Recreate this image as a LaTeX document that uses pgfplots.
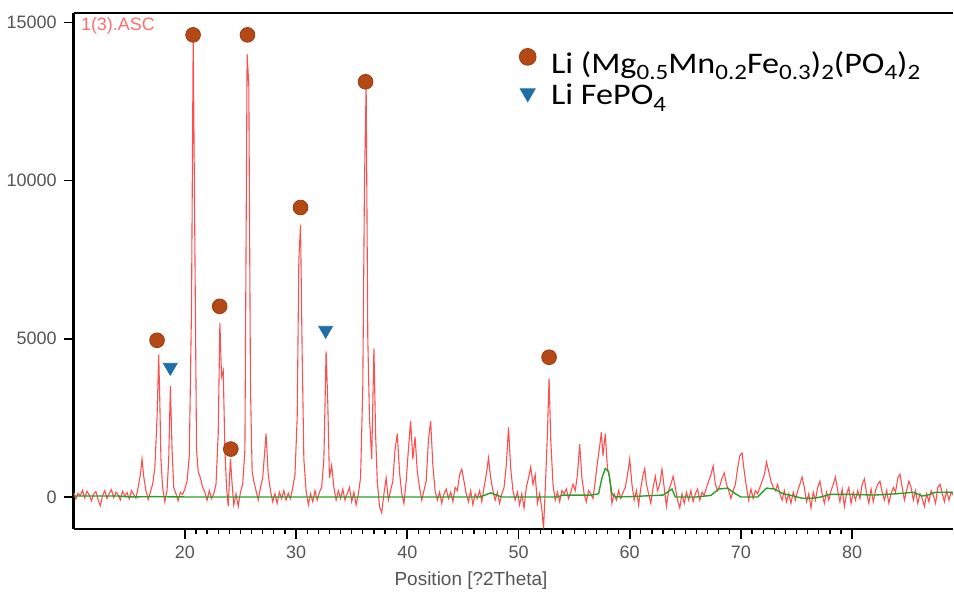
\documentclass[border=0pt]{standalone}
\usepackage{pgfplots}
\pgfplotsset{compat=1.18}
\usepackage{fontspec}
\setmainfont{Liberation Sans}
\newfontfamily\legfont[FakeStretch=1.14]{Carlito}
\newcommand\sub[1]{\raisebox{-3.3pt}{\fontsize{11}{12}\selectfont #1}}

\definecolor{xrdred}{RGB}{252,80,80}
\definecolor{ascred}{RGB}{255,110,110}
\definecolor{bggreen}{RGB}{40,160,40}
\definecolor{phaseA}{RGB}{180,72,22}
\definecolor{phaseB}{RGB}{31,110,168}
\definecolor{ticktext}{RGB}{85,85,85}

\pgfplotsset{
    legcirc/.style={legend image code/.code={%
        \draw[##1, mark size=4.2pt] plot coordinates {(0.3cm,3.5pt)};}},
    legtri/.style={legend image code/.code={%
        \draw[##1, mark size=4.3pt] plot coordinates {(0.3cm,1.5pt)};}},
}

\begin{document}
\begin{tikzpicture}
\begin{axis}[
    scale only axis,
    width=440.5pt, height=258.5pt,
    xmin=10, xmax=89.05,
    ymin=-1010, ymax=15300,
    axis x line=box, axis y line=left,
    axis line style={-, line width=1.2pt, black},
    xtick={20,30,...,80}, minor x tick num=9,
    ytick={0,5000,10000,15000},
    xtick pos=left, ytick pos=left,
    tick align=outside,
    major tick length=5pt, minor tick length=2.5pt,
    tick style={black, line width=0.8pt},
    minor tick style={line width=0.6pt},
    ticklabel style={font=\fontsize{9}{10}\selectfont, text=ticktext},
    /pgf/number format/assume math mode=true,
    /pgf/number format/1000 sep={},
    scaled y ticks=false,
    xlabel={Position [?2Theta]},
    xlabel style={at={(axis description cs:0.452,0)}, anchor=north,
        yshift=-21.5pt, inner sep=0pt,
        font=\fontsize{9.5}{11}\selectfont, text=ticktext},
    legend style={at={(rel axis cs:0.5065,0.934)}, anchor=north west,
        draw=none, fill=none, inner sep=0pt, row sep=0pt, column sep=5.5pt,
        font=\legfont\fontsize{15}{18}\selectfont},
    legend cell align=left,
]
% measured pattern
\addplot[xrdred, line width=0.55pt, forget plot] table {
10.0 150
10.2 -60
10.4 120
10.6 40
10.8 210
11.0 -30
11.2 180
11.4 60
11.6 -120
11.8 90
12.0 170
12.2 -80
12.4 -280
12.6 40
12.8 200
13.0 -50
13.2 110
13.4 230
13.6 -20
13.8 150
14.0 60
14.2 -90
14.4 180
14.6 20
14.8 140
15.0 -60
15.2 200
15.4 80
15.6 -40
15.8 300
16.0 700
16.15 1200
16.3 650
16.5 200
16.7 -80
16.9 150
17.1 400
17.3 900
17.5 2500
17.65 4500
17.75 3000
17.85 1200
18.0 300
18.2 -150
18.4 200
18.55 1200
18.7 3500
18.85 1500
19.0 300
19.2 100
19.4 -120
19.6 150
19.8 80
20.0 250
20.2 500
20.4 1300
20.6 6000
20.75 14500
20.9 8000
21.05 1500
21.2 800
21.4 600
21.6 300
21.8 150
22.0 -100
22.2 200
22.4 -50
22.6 100
22.8 400
23.0 2000
23.15 5500
23.3 3800
23.45 4000
23.6 1500
23.75 300
23.9 -300
24.1 1200
24.25 400
24.4 -250
24.6 100
24.8 -300
25.0 150
25.2 400
25.4 1500
25.6 14000
25.75 13000
25.9 3500
26.05 800
26.2 500
26.4 200
26.6 -100
26.8 300
27.0 600
27.3 2000
27.5 700
27.7 200
27.9 -150
28.1 100
28.3 -200
28.5 150
28.7 -50
28.9 200
29.1 -100
29.3 120
29.5 -60
29.7 300
29.9 700
30.1 2500
30.25 7500
30.4 8600
30.55 4500
30.7 1200
30.9 200
31.1 -250
31.3 100
31.5 -150
31.7 200
31.9 -100
32.1 150
32.3 300
32.5 1200
32.7 4600
32.85 3000
33.0 600
33.2 1000
33.4 300
33.6 -100
33.8 200
34.0 -50
34.2 250
34.4 -100
34.6 100
34.8 300
35.0 -150
35.2 150
35.4 -250
35.6 100
35.8 600
36.0 3500
36.15 9900
36.3 13000
36.45 5000
36.6 2500
36.8 1200
37.0 4700
37.15 2000
37.3 500
37.5 -300
37.7 -500
37.9 100
38.1 600
38.3 -100
38.5 200
38.7 500
38.9 1500
39.1 2000
39.3 800
39.5 100
39.7 -200
39.9 500
40.1 1500
40.3 2400
40.5 1200
40.7 1900
40.9 800
41.1 300
41.3 -100
41.5 200
41.7 500
41.9 1800
42.1 2400
42.3 1000
42.5 200
42.7 -100
42.9 150
43.1 -200
43.3 100
43.5 250
43.7 -50
43.9 150
44.1 -150
44.3 300
44.5 200
44.7 700
44.9 880
45.1 500
45.3 100
45.5 -150
45.7 200
45.9 -250
46.1 100
46.3 -50
46.5 200
46.7 -150
46.9 300
47.1 700
47.3 1230
47.5 600
47.7 200
47.9 -100
48.1 150
48.3 -200
48.5 100
48.7 300
48.9 1000
49.1 2200
49.3 900
49.5 200
49.7 -100
49.9 150
50.1 -250
50.3 100
50.5 -350
50.7 300
50.9 600
51.1 950
51.3 400
51.5 700
51.7 -200
51.9 100
52.1 -400
52.25 -1000
52.4 200
52.6 2000
52.75 3750
52.9 1800
53.1 400
53.3 -100
53.5 150
53.7 -150
53.9 200
54.1 100
54.3 250
54.5 -50
54.7 150
54.9 400
55.1 200
55.3 700
55.5 1670
55.7 600
55.9 100
56.1 -150
56.3 200
56.5 100
56.7 -50
56.9 500
57.1 1100
57.3 1600
57.45 2050
57.6 1300
57.8 2000
58.0 900
58.2 600
58.4 -200
58.6 100
58.8 -100
59.0 200
59.2 -50
59.4 150
59.6 300
59.8 700
60.0 1200
60.2 400
60.4 -100
60.6 200
60.8 -250
61.0 300
61.2 700
61.35 900
61.5 400
61.7 100
61.9 -200
62.1 300
62.3 650
62.5 200
62.7 400
62.9 880
63.1 300
63.3 -300
63.5 200
63.7 400
63.9 650
64.1 300
64.3 -100
64.5 -350
64.7 100
64.9 -200
65.1 150
65.3 -100
65.5 200
65.7 -150
65.9 100
66.1 250
66.3 -100
66.5 150
66.7 50
66.9 300
67.1 500
67.3 700
67.5 980
67.7 400
67.9 200
68.1 350
68.3 600
68.5 760
68.7 400
68.9 200
69.1 -50
69.3 200
69.5 400
69.7 900
69.9 1300
70.1 1390
70.3 800
70.5 300
70.7 -100
70.9 250
71.1 -50
71.3 200
71.5 100
71.7 300
71.9 500
72.1 700
72.3 1100
72.5 800
72.7 500
72.9 300
73.1 200
73.3 400
73.5 100
73.7 -100
73.9 200
74.1 -150
74.3 100
74.5 -200
74.7 150
74.9 -100
75.1 200
75.3 400
75.5 630
75.7 300
75.9 -150
76.1 100
76.3 -350
76.5 150
76.7 -100
76.9 300
77.1 500
77.3 100
77.5 -200
77.7 150
77.9 -100
78.1 200
78.3 400
78.5 630
78.7 200
78.9 -150
79.1 250
79.3 -300
79.5 100
79.7 300
79.9 -200
80.1 150
80.3 -100
80.5 200
80.7 -50
80.9 400
81.1 570
81.3 100
81.5 -200
81.7 250
81.9 -150
82.1 200
82.3 400
82.5 500
82.7 150
82.9 -100
83.1 200
83.3 -200
83.5 100
83.7 300
83.9 150
84.1 600
84.3 720
84.5 300
84.7 -100
84.9 200
85.1 500
85.3 300
85.5 -100
85.7 200
85.9 -200
86.1 100
86.3 -50
86.5 -300
86.7 100
86.9 -150
87.1 200
87.3 50
87.5 -200
87.7 300
87.9 400
88.1 100
88.3 -150
88.5 200
88.7 -100
88.9 150
89.1 50
};
% fitted background
\addplot[bggreen, line width=0.7pt, forget plot] table {
10 30
14 30
15 0
17 10
20 0
30 0
46.5 0
47 60
47.5 130
48 60
48.5 0
53.5 0
54 60
56.5 60
57.2 100
57.5 600
57.8 900
58.1 800
58.4 100
58.7 0
60 10
63 60
63.8 250
64.1 0
66 0
67.3 50
68 250
68.8 280
69.5 100
70 0
71.5 0
72.3 280
73 250
73.8 100
74.5 50
75.5 -40
76.5 -40
77.2 0
78 80
80 80
82 60
84 100
85.5 150
86.3 30
86.8 60
87.5 150
89.1 150
};
\addplot[only marks, mark=*, mark size=3.7pt,
    mark options={fill=phaseA, draw=phaseA!85!black, line width=0.4pt},
    legcirc] table {
17.5 4953
20.74 14608
23.13 6026
24.13 1514
25.63 14608
30.4 9150
36.25 13125
52.75 4417
};
\addlegendentry{Li (Mg\sub{0.5}Mn\sub{0.2}Fe\sub{0.3})\sub{2}(PO\sub{4})\sub{2}}
\addplot[only marks, mark=triangle*, mark size=4pt,
    mark options={fill=phaseB, draw=phaseB, rotate=180},
    legtri] table {
18.69 4100
32.66 5270
};
\addlegendentry{Li FePO\sub{4}}
\node[anchor=north west, inner sep=0pt, text=ascred,
    font=\fontsize{9}{10}\selectfont, xshift=3.5pt, yshift=-2pt]
    at (rel axis cs:0,1) {1(3).ASC};
\end{axis}
\path ([shift={(-36.5pt,-32pt)}]current axis.south west)
    rectangle ([shift={(0pt,6.5pt)}]current axis.north east);
\end{tikzpicture}
\end{document}
